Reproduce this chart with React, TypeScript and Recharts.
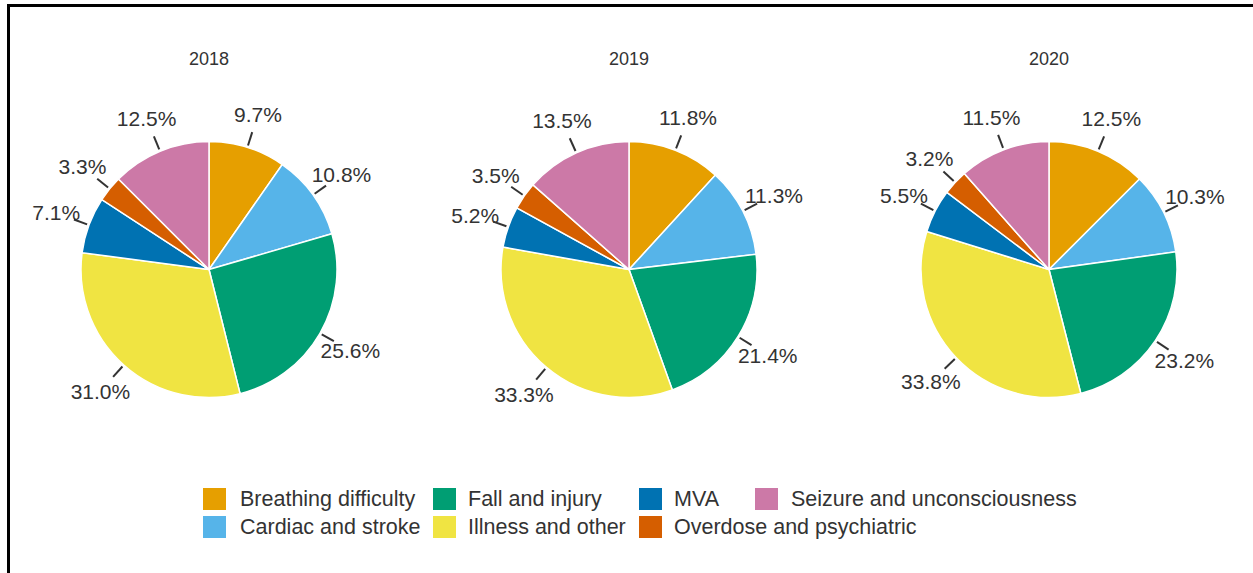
import React from 'react';
import { PieChart, Pie, Cell } from 'recharts';

const categories = [
  'Breathing difficulty',
  'Cardiac and stroke',
  'Fall and injury',
  'Illness and other',
  'MVA',
  'Overdose and psychiatric',
  'Seizure and unconsciousness',
];

const COLORS = ['#E69F00', '#56B4E9', '#009E73', '#F0E442', '#0072B2', '#D55E00', '#CC79A7'];

const years = ['2018', '2019', '2020'];

const values2018 = [9.7, 10.8, 25.6, 31.0, 7.1, 3.3, 12.5];
const values2019 = [11.8, 11.3, 21.4, 33.3, 5.2, 3.5, 13.5];
const values2020 = [12.5, 10.3, 23.2, 33.8, 5.5, 3.2, 11.5];

const yearValues = [values2018, values2019, values2020];

const FONT = '"Liberation Sans", Arial, Helvetica, sans-serif';
const RADIAN = Math.PI / 180;
const TEXT = '#333333';

const CHART_W = 420;
const CHART_H = 470;
const CENTERS = [209, 629, 1049];
const CY = 269.5;
const RADIUS = 128;

// legend column / row layout
const legendSwatchX = [203, 433, 639, 755];
const legendTextX = [240, 468, 674, 791];
const legendRowY = [499, 527];

const renderLabel = (props: any) => {
  const { cx, cy, midAngle, outerRadius, value } = props;
  const r = outerRadius + 35;
  const x = cx + r * Math.cos(-midAngle * RADIAN);
  const y = cy + r * Math.sin(-midAngle * RADIAN);
  return (
    <text
      x={x}
      y={y}
      textAnchor="middle"
      dominantBaseline="central"
      fill={TEXT}
      fontSize={21}
      fontFamily={FONT}
    >
      {`${Number(value).toFixed(1)}%`}
    </text>
  );
};

const renderLabelLine = (props: any) => {
  const { cx, cy, midAngle, outerRadius } = props;
  const cos = Math.cos(-midAngle * RADIAN);
  const sin = Math.sin(-midAngle * RADIAN);
  const r1 = outerRadius + 2;
  const r2 = outerRadius + 16;
  return (
    <path
      d={`M${cx + r1 * cos},${cy + r1 * sin}L${cx + r2 * cos},${cy + r2 * sin}`}
      stroke={TEXT}
      strokeWidth={2}
      fill="none"
    />
  );
};

export default function App() {
  return (
    <div
      style={{
        position: 'fixed',
        left: 0,
        top: 0,
        width: 1253,
        height: 573,
        background: '#fff',
        overflow: 'hidden',
        fontFamily: FONT,
      }}
    >
      {/* frame: top and left rules only */}
      <div style={{ position: 'absolute', left: 7, top: 4, width: 1246, height: 3, background: '#000' }} />
      <div style={{ position: 'absolute', left: 7, top: 4, width: 3, height: 569, background: '#000' }} />

      {years.map((year, yi) => {
        const data = categories.map((name, i) => ({ name, value: yearValues[yi][i] }));
        return (
          <div
            key={year}
            style={{ position: 'absolute', left: CENTERS[yi] - CHART_W / 2, top: 0, width: CHART_W, height: CHART_H }}
          >
            <div
              style={{
                position: 'absolute',
                left: 0,
                width: CHART_W,
                top: 48,
                textAlign: 'center',
                fontSize: 18,
                lineHeight: '22px',
                color: TEXT,
              }}
            >
              {year}
            </div>
            <PieChart width={CHART_W} height={CHART_H} margin={{ top: 0, right: 0, bottom: 0, left: 0 }}>
              <Pie
                data={data}
                dataKey="value"
                nameKey="name"
                cx={CHART_W / 2}
                cy={CY}
                outerRadius={RADIUS}
                startAngle={90}
                endAngle={-270}
                stroke="#ffffff"
                strokeWidth={1.5}
                label={renderLabel}
                labelLine={renderLabelLine}
                isAnimationActive={false}
              >
                {data.map((_, i) => (
                  <Cell key={`cell-${i}`} fill={COLORS[i]} />
                ))}
              </Pie>
            </PieChart>
          </div>
        );
      })}

      {categories.map((name, i) => {
        const col = Math.floor(i / 2);
        const row = i % 2;
        const cyRow = legendRowY[row];
        return (
          <React.Fragment key={name}>
            <div
              style={{
                position: 'absolute',
                left: legendSwatchX[col],
                top: cyRow - 11,
                width: 23,
                height: 22,
                background: COLORS[i],
              }}
            />
            <div
              style={{
                position: 'absolute',
                left: legendTextX[col],
                top: cyRow - 13,
                height: 26,
                lineHeight: '26px',
                fontSize: 21.5,
                color: TEXT,
                whiteSpace: 'nowrap',
              }}
            >
              {name}
            </div>
          </React.Fragment>
        );
      })}
    </div>
  );
}
